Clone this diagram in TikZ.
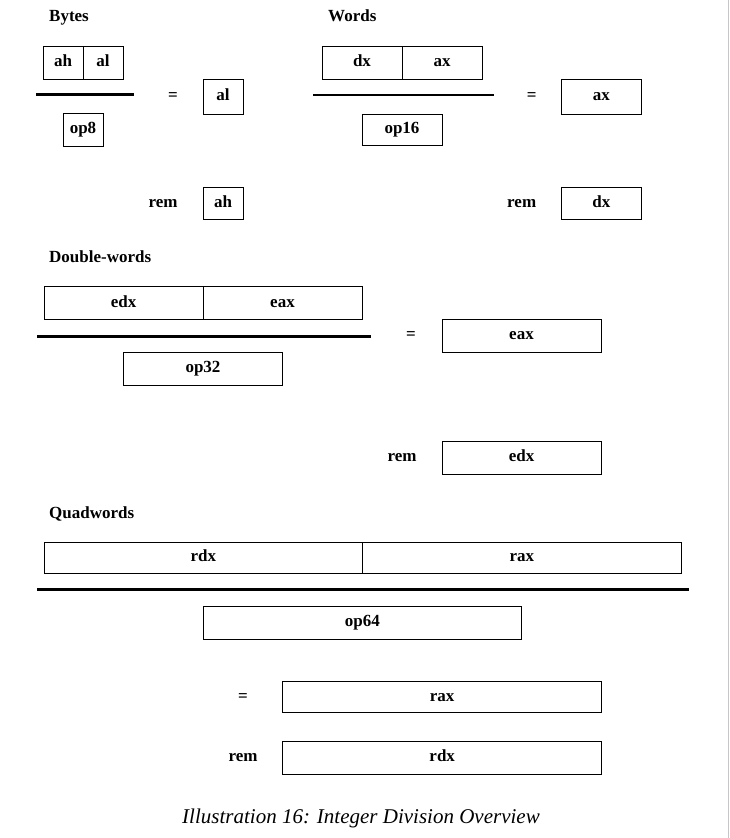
\documentclass[tikz,border=0pt]{standalone}
\usepackage{fontspec}
\setmainfont{Liberation Serif}
\usetikzlibrary{positioning}
\newcommand{\regfont}{\fontsize{17}{20}\selectfont\bfseries}
\tikzstyle{reg} = [draw, line width=1pt, outer sep=0pt, inner sep=0pt,
    minimum height=33pt, text height=11.5pt, text depth=3.5pt, font=\regfont]
\tikzstyle{lbl} = [inner sep=0pt, text height=11.5pt, text depth=3.5pt,
    font=\regfont]
\tikzstyle{heading} = [anchor=base west, inner sep=0pt, font=\regfont]
\tikzstyle{bar} = [line width=2.7pt]
\tikzstyle{byte} = [minimum width=40pt]
\tikzstyle{word} = [minimum width=80pt]
\tikzstyle{dword} = [minimum width=159pt]
\tikzstyle{qword} = [minimum width=318.5pt]

\begin{document}
\begin{tikzpicture}[x=1pt, y=-1pt, node distance=0pt]
  \useasboundingbox (0,0) rectangle (730,838);
  \draw [gray!45, line width=1pt] (728.5,0) -- (728.5,838);

  % Bytes
  \node [heading] (hbytes) at (49,21) {Bytes};
  \node [reg, byte] (b_ah) at (63,62.7) {ah};
  \node [reg, byte, right=of b_ah] (b_al) {al};
  \draw [bar] (36,94.3) -- (134,94.3);
  \node [reg, byte] (b_op) at (83,129.8) {op8};
  \node [lbl] (b_eq) at (173,96.8) {=};
  \node [reg, byte, minimum height=35pt] (b_quo) at (223,96.8) {al};
  \node [lbl] (b_rem) at (163,203.3) {rem};
  \node [reg, byte, minimum height=32pt] (b_res) at (223,203.3) {ah};

  % Words
  \node [heading] (hwords) at (328,21) {Words};
  \node [reg, word] (w_dx) at (362,62.7) {dx};
  \node [reg, word, right=of w_dx] (w_ax) {ax};
  \draw [bar] (313,95) -- (494,95);
  \node [reg, word, minimum height=31pt] (w_op) at (402,129.8) {op16};
  \node [lbl] (w_eq) at (531.7,96.8) {=};
  \node [reg, word, minimum height=35pt] (w_quo) at (601.3,96.8) {ax};
  \node [lbl] (w_rem) at (521.7,203.3) {rem};
  \node [reg, word, minimum height=32pt] (w_res) at (601.3,203.3) {dx};

  % Double-words
  \node [heading] (hdwords) at (49,262.7) {Double-words};
  \node [reg, dword] (d_edx) at (123.5,303) {edx};
  \node [reg, dword, right=of d_edx] (d_eax) {eax};
  \draw [bar] (37,336.7) -- (371,336.7);
  \node [reg, dword] (d_op) at (203,368.8) {op32};
  \node [lbl] (d_eq) at (411,335.8) {=};
  \node [reg, dword] (d_quo) at (521.5,335.8) {eax};
  \node [lbl] (d_rem) at (402,457.8) {rem};
  \node [reg, dword] (d_res) at (521.5,457.8) {edx};

  % Quadwords
  \node [heading] (hqwords) at (49,518) {Quadwords};
  \node [reg, qword, minimum height=31pt] (q_rdx) at (203.3,557.8) {rdx};
  \node [reg, qword, minimum height=31pt, right=of q_rdx] (q_rax) {rax};
  \draw [bar] (37,589.3) -- (688.5,589.3);
  \node [reg, qword] (q_op) at (362.3,622.8) {op64};
  \node [lbl] (q_eq) at (243,697) {=};
  \node [reg, qword, minimum height=31pt] (q_quo) at (442.2,697) {rax};
  \node [lbl] (q_rem) at (243,757.8) {rem};
  \node [reg, qword] (q_res) at (442.2,757.8) {rdx};

  % caption
  \node [anchor=base, inner sep=0pt, font=\fontsize{21}{24}\selectfont\itshape]
    (caption) at (361,823) {Illustration 16: Integer Division Overview};
\end{tikzpicture}
\end{document}
